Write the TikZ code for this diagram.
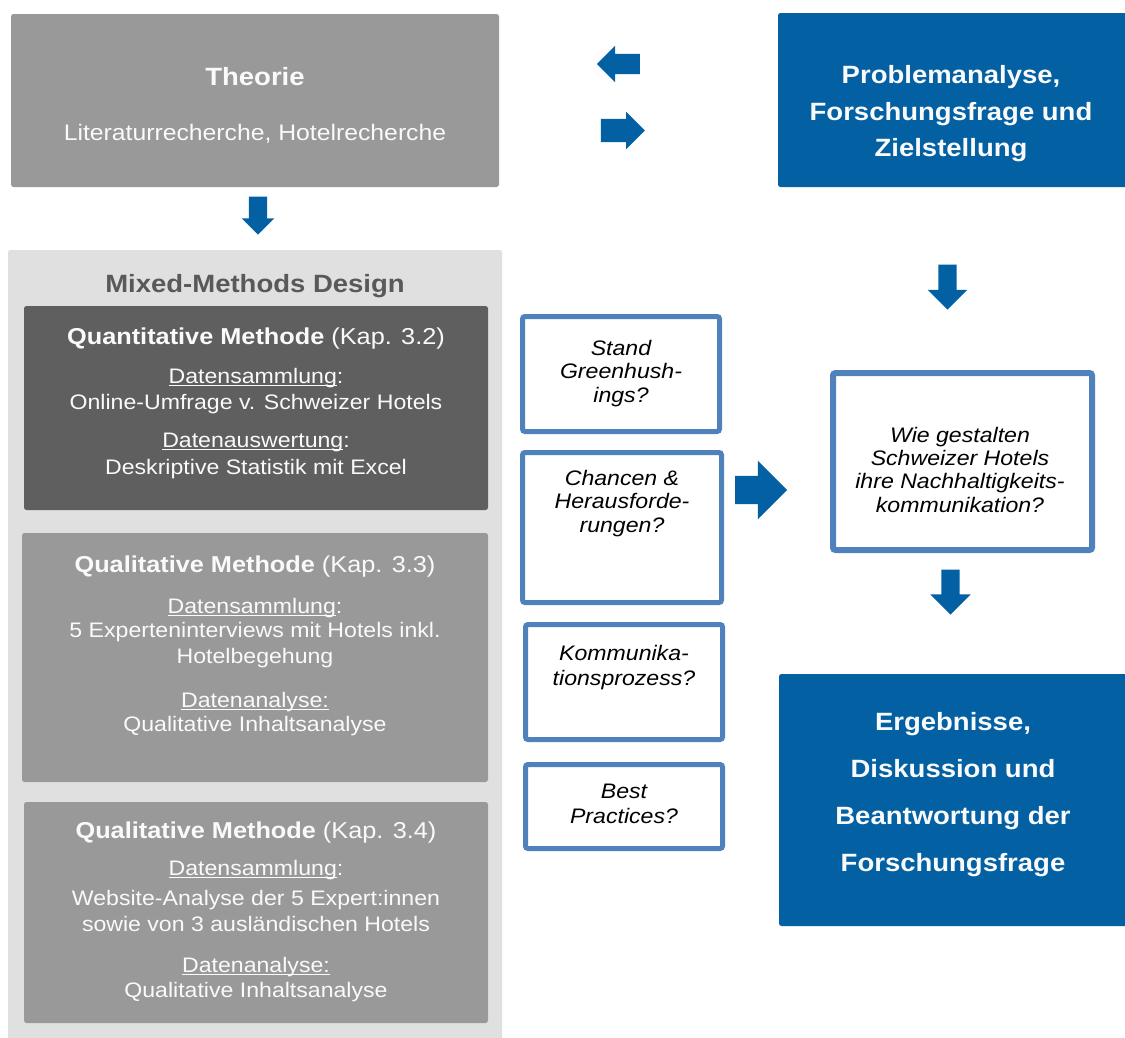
\documentclass[tikz,border=0pt]{standalone}
\usepackage{fontspec}
\setmainfont{Liberation Sans}[FakeStretch=1.1]
\usetikzlibrary{shapes.arrows}
\definecolor{myblue}{RGB}{2,96,163}
\definecolor{qborder}{RGB}{79,129,189}
\definecolor{gtheo}{RGB}{153,153,153}
\definecolor{gmix}{RGB}{224,224,224}
\definecolor{gquant}{RGB}{95,95,95}
\definecolor{gqual}{RGB}{153,153,153}
\definecolor{gtitle}{RGB}{89,89,89}
\definecolor{wtext}{RGB}{250,250,250}
\newcommand\myul[1]{\setbox0\hbox{#1}\rlap{\rule[-2.6pt]{\wd0}{1.1pt}}\box0}
\newcommand\fsz[1]{\fontsize{#1}{#1}\selectfont}
\begin{document}
\begin{tikzpicture}[x=1pt,y=-1pt,
  box/.style={rectangle, rounded corners=2.5pt, inner sep=0pt, draw=none},
  qbox/.style={rectangle, rounded corners=2.5pt, inner sep=0pt, draw=qborder, line width=5pt, fill=white},
  txt/.style={anchor=base, inner sep=0pt, text=wtext},
  ttl/.style={txt, font=\fsz{25}\bfseries},
  hd/.style={txt, font=\fsz{23}},
  bd/.style={txt, font=\fsz{21}},
  qtxt/.style={anchor=base, inner sep=0pt, text=black, font=\fsz{21}\itshape},
  barrow/.style={single arrow, fill=myblue, draw=none, inner xsep=0pt, minimum width=0pt,
    single arrow tip angle=90, single arrow head indent=0pt}
]
\useasboundingbox (0,0) rectangle (1125,1037);
\fill[white] (0,0) rectangle (1125,1037);

% ---- top row
\node[box, fill=gtheo, minimum width=488pt, minimum height=173pt] (theorie) at (255,100.5) {};
\node[ttl] (theorieT) at (255,85) {Theorie};
\node[txt, font=\fsz{22.5}] (theorieS) at (255,140) {Literaturrecherche, Hotelrecherche};

\node[box, fill=myblue, minimum width=352pt, minimum height=174pt] (problem) at (954,100) {};
\node[ttl] (p1) at (951,83) {Problemanalyse,};
\node[ttl] (p2) at (951,120) {Forschungsfrage und};
\node[ttl] (p3) at (951,156) {Zielstellung};

\node[barrow, rotate=180, minimum height=43pt, inner ysep=10pt, single arrow head extend=8pt] (aleft) at (623.5,64) {};
\node[barrow, minimum height=44pt, inner ysep=11.5pt, single arrow head extend=7pt] (aright) at (617,130.5) {};
\node[barrow, rotate=-90, minimum height=38pt, inner ysep=9pt, single arrow head extend=7pt] (atheo) at (258,211) {};

% ---- mixed methods
\node[box, fill=gmix, minimum width=494pt, minimum height=795pt] (mixed) at (255,647.5) {};
\node[txt, text=gtitle, font=\fsz{25}\bfseries] (mixedT) at (255,292) {Mixed-Methods Design};

\node[box, fill=gquant, minimum width=464pt, minimum height=204pt] (quant) at (256,408) {};
\node[hd] (quantH) at (256,344) {\textbf{Quantitative Methode} (Kap. 3.2)};
\node[bd] (quant1) at (256,383) {\myul{Datensammlung}:};
\node[bd] (quant2) at (256,409) {Online-Umfrage v. Schweizer Hotels};
\node[bd] (quant3) at (256,447) {\myul{Datenauswertung}:};
\node[bd] (quant4) at (256,474) {Deskriptive Statistik mit Excel};

\node[box, fill=gqual, minimum width=466pt, minimum height=249pt] (qualA) at (255,657.5) {};
\node[hd] (qualAH) at (255,572) {\textbf{Qualitative Methode} (Kap. 3.3)};
\node[bd] (qualA1) at (255,613) {\myul{Datensammlung}:};
\node[bd] (qualA2) at (255,637) {5 Experteninterviews mit Hotels inkl.};
\node[bd] (qualA3) at (255,663) {Hotelbegehung};
\node[bd] (qualA4) at (255,707) {\myul{Datenanalyse:}};
\node[bd] (qualA5) at (255,731) {Qualitative Inhaltsanalyse};

\node[box, fill=gqual, minimum width=464pt, minimum height=221pt] (qualB) at (256,912.5) {};
\node[hd] (qualBH) at (256,838) {\textbf{Qualitative Methode} (Kap. 3.4)};
\node[bd] (qualB1) at (256,875) {\myul{Datensammlung}:};
\node[bd] (qualB2) at (256,905) {Website-Analyse der 5 Expert:innen};
\node[bd] (qualB3) at (256,931) {sowie von 3 ausländischen Hotels};
\node[bd] (qualB4) at (256,972) {\myul{Datenanalyse:}};
\node[bd] (qualB5) at (256,997) {Qualitative Inhaltsanalyse};

% ---- question boxes
\node[qbox, minimum width=197pt, minimum height=115pt] (q1) at (621,374) {};
\node[qtxt] (q1a) at (621,355) {Stand};
\node[qtxt] (q1b) at (621,378) {Greenhush-};
\node[qtxt] (q1c) at (621,402) {ings?};

\node[qbox, minimum width=199pt, minimum height=150pt] (q2) at (622,527.5) {};
\node[qtxt] (q2a) at (622,485) {Chancen \&};
\node[qtxt] (q2b) at (622,508) {Herausforde-};
\node[qtxt] (q2c) at (622,532) {rungen?};

\node[qbox, minimum width=197pt, minimum height=115pt] (q3) at (624,682) {};
\node[qtxt] (q3a) at (624,660) {Kommunika-};
\node[qtxt] (q3b) at (624,685) {tionsprozess?};

\node[qbox, minimum width=197pt, minimum height=84pt] (q4) at (624,806.5) {};
\node[qtxt] (q4a) at (624,798) {Best};
\node[qtxt] (q4b) at (624,823) {Practices?};

\node[barrow, minimum height=52pt, inner ysep=14pt, single arrow head extend=15pt] (abig) at (754,490) {};

% ---- right column
\node[barrow, rotate=-90, minimum height=45pt, inner ysep=9pt, single arrow head extend=10.5pt] (adown1) at (947.5,282.5) {};

\node[qbox, line width=6pt, minimum width=259pt, minimum height=177pt] (wie) at (962.5,461.5) {};
\node[qtxt] (w1) at (960,442) {Wie gestalten};
\node[qtxt] (w2) at (960,465) {Schweizer Hotels};
\node[qtxt] (w3) at (960,488) {ihre Nachhaltigkeits-};
\node[qtxt] (w4) at (960,512) {kommunikation?};

\node[barrow, rotate=-90, minimum height=45pt, inner ysep=9pt, single arrow head extend=11pt] (adown2) at (950.5,587.5) {};

\node[box, fill=myblue, minimum width=352pt, minimum height=252pt] (ergeb) at (955,800) {};
\node[ttl] (e1) at (953,730) {Ergebnisse,};
\node[ttl] (e2) at (953,777) {Diskussion und};
\node[ttl] (e3) at (953,824) {Beantwortung der};
\node[ttl] (e4) at (953,871) {Forschungsfrage};
\end{tikzpicture}
\end{document}
